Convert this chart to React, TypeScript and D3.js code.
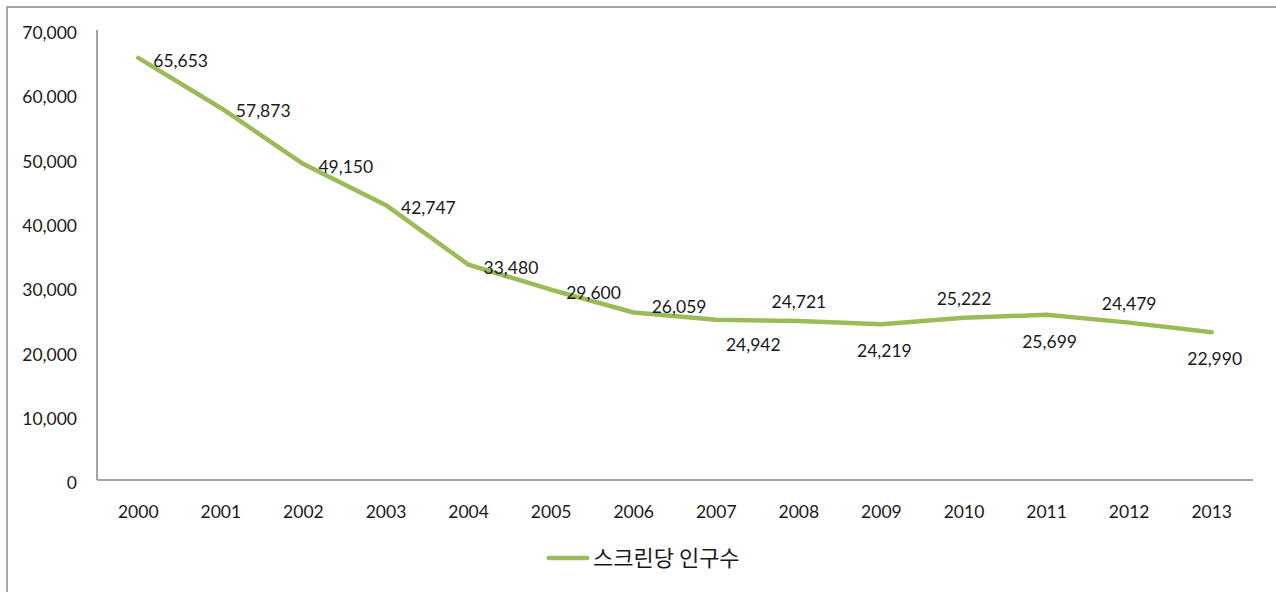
import { useEffect, useRef } from "react";
import * as d3 from "d3";

// 스크린당 인구수 (people per screen), 2000-2013
const years = ["2000", "2001", "2002", "2003", "2004", "2005", "2006", "2007", "2008", "2009", "2010", "2011", "2012", "2013"];
const peoplePerScreen = [65653, 57873, 49150, 42747, 33480, 29600, 26059, 24942, 24721, 24219, 25222, 25699, 24479, 22990];
// where the data label sits relative to its point
const labelPlacement = ["right", "right", "right", "right", "right", "right", "upperRight", "lowerRight", "above", "below", "above", "below", "above", "below"];
const yTicks = [0, 10000, 20000, 30000, 40000, 50000, 60000, 70000];
const seriesName = "스크린당 인구수";

const WIDTH = 1276;
const HEIGHT = 592;
const LINE_COLOR = "#9BBB59";
const AXIS_COLOR = "#868686";
const TEXT_COLOR = "#1a1a1a";
const FONT = "Lato, 'Open Sans', sans-serif";

const App = () => {
  const ref = useRef<SVGSVGElement>(null);

  useEffect(() => {
    if (!ref.current) return;
    const svg = d3.select(ref.current);
    svg.selectAll("*").remove();

    const x = d3.scaleBand<string>().domain(years).range([97, 1253]);
    const y = d3.scaleLinear().domain([0, 70000]).range([480, 30]);
    const cx = (i: number) => (x(years[i]) as number) + x.bandwidth() / 2;
    const fmt = d3.format(",");

    // outer frame (only top/left visible in the crop)
    svg
      .append("rect")
      .attr("x", 7)
      .attr("y", 7)
      .attr("width", WIDTH + 20)
      .attr("height", HEIGHT + 20)
      .attr("fill", "none")
      .attr("stroke", "#8a8a8a")
      .attr("stroke-width", 1.5);

    // axes
    svg
      .append("line")
      .attr("x1", 97)
      .attr("x2", 97)
      .attr("y1", y(70000))
      .attr("y2", y(0))
      .attr("stroke", AXIS_COLOR)
      .attr("stroke-width", 1.5);
    svg
      .append("line")
      .attr("x1", 97)
      .attr("x2", 1253)
      .attr("y1", y(0))
      .attr("y2", y(0))
      .attr("stroke", AXIS_COLOR)
      .attr("stroke-width", 1.5);

    // y tick labels
    svg
      .append("g")
      .selectAll("text")
      .data(yTicks)
      .enter()
      .append("text")
      .attr("x", 77)
      .attr("y", (d) => y(d) + 3)
      .attr("dy", "0.35em")
      .attr("text-anchor", "end")
      .style("font-family", FONT)
      .style("font-size", "17.5px")
      .style("fill", TEXT_COLOR)
      .text((d) => fmt(d));

    // x tick labels
    svg
      .append("g")
      .selectAll("text")
      .data(years)
      .enter()
      .append("text")
      .attr("x", (d, i) => cx(i))
      .attr("y", 512)
      .attr("dy", "0.35em")
      .attr("text-anchor", "middle")
      .style("font-family", FONT)
      .style("font-size", "17.5px")
      .style("fill", TEXT_COLOR)
      .text((d) => d);

    // series line
    const line = d3
      .line<number>()
      .x((d, i) => cx(i))
      .y((d) => y(d));
    svg
      .append("path")
      .datum(peoplePerScreen)
      .attr("d", line)
      .attr("fill", "none")
      .attr("stroke", LINE_COLOR)
      .attr("stroke-width", 4.5)
      .attr("stroke-linejoin", "round")
      .attr("stroke-linecap", "round");

    // data labels
    const offsets: Record<string, [number, number, string]> = {
      right: [15, 3, "start"],
      upperRight: [18, -6, "start"],
      lowerRight: [37, 25, "middle"],
      above: [0, -19, "middle"],
      below: [3, 27, "middle"],
    };
    svg
      .append("g")
      .selectAll("text")
      .data(peoplePerScreen)
      .enter()
      .append("text")
      .attr("x", (d, i) => cx(i) + offsets[labelPlacement[i]][0])
      .attr("y", (d, i) => y(d) + offsets[labelPlacement[i]][1])
      .attr("dy", "0.35em")
      .attr("text-anchor", (d, i) => offsets[labelPlacement[i]][2])
      .style("font-family", FONT)
      .style("font-size", "17.5px")
      .style("fill", TEXT_COLOR)
      .text((d) => fmt(d));

    // legend
    const legend = svg.append("g").attr("transform", "translate(547, 558)");
    legend
      .append("line")
      .attr("x1", 2)
      .attr("x2", 40)
      .attr("stroke", LINE_COLOR)
      .attr("stroke-width", 4.5)
      .attr("stroke-linecap", "round");
    legend
      .append("text")
      .attr("x", 46)
      .attr("dy", "0.35em")
      .style("font-family", "'Noto Sans CJK KR', sans-serif")
      .style("font-size", "22px")
      .style("fill", TEXT_COLOR)
      .text(seriesName);
  }, []);

  return (
    <svg
      ref={ref}
      width={WIDTH}
      height={HEIGHT}
      style={{ display: "block", position: "absolute", left: 0, top: 0, background: "#fff" }}
    />
  );
};

export default App;
